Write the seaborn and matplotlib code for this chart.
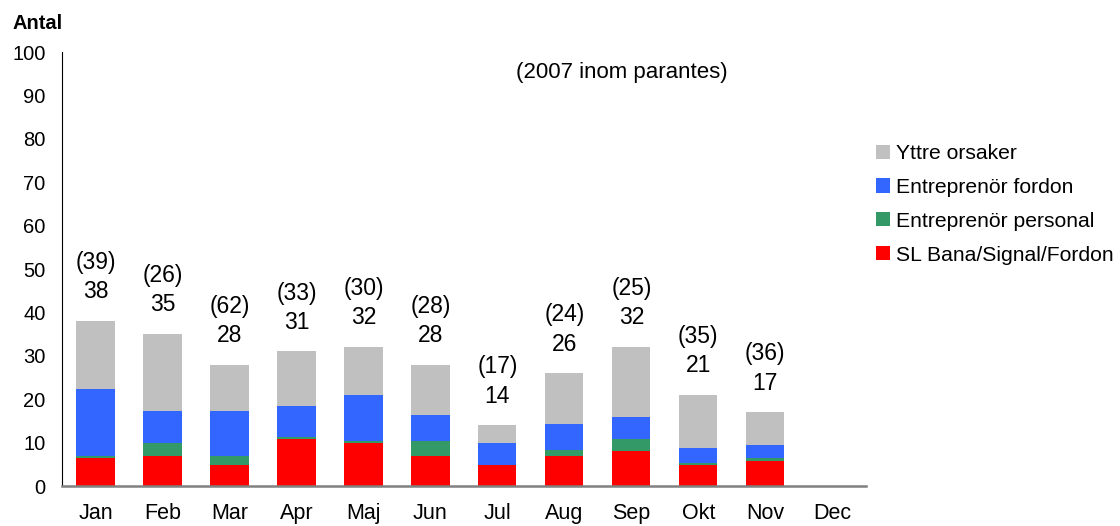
import matplotlib
matplotlib.use("Agg")
import matplotlib.pyplot as plt
from matplotlib.patches import Patch
import numpy as np
import pandas as pd
import seaborn as sns

# Data
months = ["Jan", "Feb", "Mar", "Apr", "Maj", "Jun", "Jul", "Aug", "Sep", "Okt", "Nov", "Dec"]
sl_bana = [6.5, 7.0, 4.8, 10.8, 9.8, 6.9, 4.8, 6.9, 8.0, 4.8, 5.7, 0]
entr_personal = [0.4, 2.9, 2.1, 0.4, 0.5, 3.4, 0.0, 1.4, 2.8, 0.4, 0.8, 0]
entr_fordon = [15.4, 7.4, 10.3, 7.2, 10.6, 6.0, 5.1, 6.1, 5.0, 3.5, 2.9, 0]
yttre = [15.7, 17.7, 10.8, 12.6, 11.1, 11.7, 4.1, 11.6, 16.2, 12.3, 7.6, 0]
totals = [38, 35, 28, 31, 32, 28, 14, 26, 32, 21, 17, None]
prev_year = [39, 26, 62, 33, 30, 28, 17, 24, 25, 35, 36, None]

series = ["SL Bana/Signal/Fordon", "Entreprenör personal", "Entreprenör fordon", "Yttre orsaker"]
colors = {"SL Bana/Signal/Fordon": "#FF0000",
          "Entreprenör personal": "#339966",
          "Entreprenör fordon": "#3366FF",
          "Yttre orsaker": "#C0C0C0"}

df = pd.DataFrame({"Månad": months,
                   "SL Bana/Signal/Fordon": sl_bana,
                   "Entreprenör personal": entr_personal,
                   "Entreprenör fordon": entr_fordon,
                   "Yttre orsaker": yttre})

# cumulative sums for stacking (draw top layer first)
cum = df[series].cumsum(axis=1)
cum["Månad"] = months

sns.set_style("white")
plt.rcParams["font.family"] = ["Liberation Sans", "DejaVu Sans"]
plt.rcParams["text.color"] = "black"
plt.rcParams["xtick.color"] = "black"
plt.rcParams["ytick.color"] = "black"

fig = plt.figure(figsize=(11.2, 5.26), dpi=100)
ax = fig.add_axes([0.0554, 0.076, 0.7176, 0.825])

for s in reversed(series):
    sns.barplot(data=cum, x="Månad", y=s, color=colors[s], width=0.57,
                saturation=1, linewidth=0, ax=ax, order=months)

# labels above bars
for i, (t, p) in enumerate(zip(totals, prev_year)):
    if t is None:
        continue
    ax.annotate(str(t), (i, t), xytext=(0, 21), textcoords="offset points",
                ha="center", va="center", fontsize=16.5)
    ax.annotate(f"({p})", (i, t), xytext=(0, 42), textcoords="offset points",
                ha="center", va="center", fontsize=16.5)

ax.set_ylim(0, 100)
ax.set_xlim(-0.5, 11.5)
ax.set_yticks(np.arange(0, 101, 10))
ax.set_xlabel("")
ax.set_ylabel("")

# ticks between categories on x axis
ax.set_xticks(np.arange(-0.5, 12, 1))
ax.set_xticklabels([])
ax.set_xticks(np.arange(12), minor=True)
ax.set_xticklabels(months, minor=True, fontsize=15.5)
ax.tick_params(axis="x", which="major", direction="out", length=6, width=0.8, color="black")
ax.tick_params(axis="x", which="minor", length=0, pad=12, labelcolor="black")
ax.tick_params(axis="y", direction="out", length=5, width=0.8, color="black",
               labelcolor="black", labelsize=14.5, pad=7)

for side in ["top", "right"]:
    ax.spines[side].set_visible(False)
ax.spines["left"].set_color("black")
ax.spines["left"].set_linewidth(0.8)
ax.spines["bottom"].set_color("#808080")
ax.spines["bottom"].set_linewidth(1.8)

fig.text(0.011, 0.956, "Antal", fontsize=14.4, fontweight="bold", ha="left", va="center")
ax.text(0.697, 0.953, "(2007 inom parantes)", transform=ax.transAxes,
        ha="center", va="center", fontsize=16)

handles = [Patch(facecolor=colors[s], edgecolor="none", label=s) for s in reversed(series)]
fig.legend(handles=handles, loc="upper left", bbox_to_anchor=(0.782, 0.726),
           frameon=False, fontsize=15.25, handlelength=0.66, handleheight=0.66,
           handletextpad=0.3, labelspacing=0.7, borderpad=0, borderaxespad=0,
           labelcolor="black")

fig.savefig("out.png", dpi=100)
